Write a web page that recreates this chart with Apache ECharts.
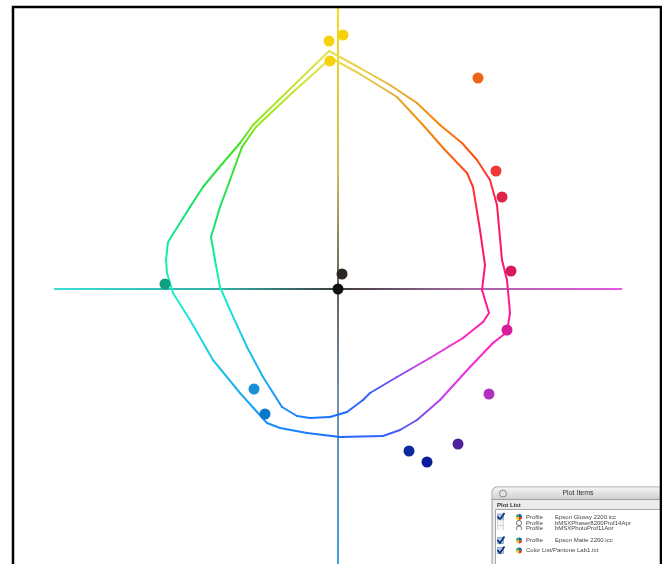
<!DOCTYPE html>
<html>
<head>
<meta charset="utf-8">
<style>
html, body { margin: 0; padding: 0; background: #fff; }
#chart { width: 662px; height: 564px; }
</style>
<script src="https://cdn.jsdelivr.net/npm/echarts@6/dist/echarts.min.js"></script>
</head>
<body>
<div id="chart"></div>
<script>
// gamut outlines in the a*b* plane
const glossyA = [-4.5, 11, 26, 39.5, 51, 62, 69.5, 76, 79.5, 82, 84.5, 86, 84.5, 77.5, 66, 51, 39.5, 31, 22.5, 1, -15.5, -29, -35.5, -49, -62.5, -74, -82.5, -85.5, -86, -85, -74, -67.5, -60.5, -49, -42.5, -24, -4.5];
const glossyB = [119, 110.5, 102, 93, 82, 73, 64.5, 54.5, 42, 14.5, 4.5, -12, -21.5, -27, -39, -55.5, -65.5, -70.5, -73.5, -74, -72, -69.5, -67, -52, -35.5, -15.5, -2, 8, 14.5, 23.5, 41, 51, 59.5, 73, 82, 100, 119];
const matteA = [-3.5, 11, 29.5, 42.5, 53.5, 64.5, 67.5, 71, 73.5, 72, 75.5, 72.5, 62.5, 46, 29.5, 16, 12.5, 4.5, -4, -14, -20.5, -28, -37.5, -45.5, -54, -59, -61.5, -63.5, -59, -54, -48, -41, -23, -3.5];
const matteB = [115.5, 107.5, 96, 82, 69.5, 58, 51, 29.5, 12, -0.5, -12, -16.5, -24.5, -34.5, -44, -52, -55.5, -61.5, -64, -64.5, -63.5, -59, -44, -29, -10.5, 1, 14.5, 26, 41, 54.5, 71, 81, 98, 115.5];

// Pantone colour list swatches
const swatchA = [-4.5, 2.5, -4, 70, 79, 82, 86.5, 84.5, 75.5, 60, 35.5, 44.5, -42, -36.5, -86.5, 2, 0];
const swatchB = [124, 127, 114, 105.5, 59, 46, 9, -20.5, -52.5, -77.5, -81, -86.5, -50, -62.5, 2.5, 7.5, 0];
const swatchColors = ['#f6d20e', '#f6d20e', '#f6d20e', '#f06418', '#f03838', '#e02448', '#d8185a', '#d81c9c', '#b030c0', '#50209c', '#0c2aa0', '#0a1c9c', '#1890d8', '#0878c8', '#10a080', '#2c2824', '#101010'];

// a* and b* axis extents
const aAxisEnds = [-142, 142];
const bAxisEnds = [141, -138];

// plot items panel rows: [checked, wheel icon, kind, name]
const plotRows = [
    [true, true, 'Profile', 'Epson Glossy 2200.icc'],
    [false, false, 'Profile', 'bMSXPhaser8200Prof14Apr'],
    [false, false, 'Profile', 'bMSXPhotoProf11Apr'],
    [true, true, 'Profile', 'Epson Matte 2200.icc'],
    [true, true, '', 'Color List/Pantone Lab1.txt']
];
const rowY = [517, 523, 528.5, 540.5, 550.5];

const hueStops = [
    [-90, '#1a6cff'], [-72, '#3a60ff'], [-59, '#7050f0'], [-47, '#c040f0'], [-31, '#f030e0'],
    [-19, '#ff20c0'], [-8, '#ff1898'], [10, '#ff1470'], [30, '#ff1c50'], [43, '#ff4a18'],
    [58, '#ff8000'], [72, '#e0a830'], [90, '#f0e050'], [117, '#90e818'], [124, '#48e020'],
    [151, '#10e070'], [170, '#10f0a0'], [181, '#20f0c0'], [192, '#20e0e0'], [227, '#20b0f0'],
    [242, '#1890ff'], [270, '#1a6cff']
];

function hexRgb(h) {
    return [parseInt(h.slice(1, 3), 16), parseInt(h.slice(3, 5), 16), parseInt(h.slice(5, 7), 16)];
}

function mix(c0, c1, t) {
    const x = hexRgb(c0), y = hexRgb(c1);
    const r = x.map((v, i) => Math.round(v + (y[i] - v) * t));
    return 'rgb(' + r.join(',') + ')';
}

function hueColor(a, b) {
    let ang = Math.atan2(b, a) * 180 / Math.PI;
    if (ang < -90) ang += 360;
    for (let i = 0; i < hueStops.length - 1; i++) {
        const s0 = hueStops[i], s1 = hueStops[i + 1];
        if (ang >= s0[0] && ang <= s1[0]) {
            return mix(s0[1], s1[1], (ang - s0[0]) / (s1[0] - s0[0]));
        }
    }
    return hueStops[0][1];
}

function segments(as, bs) {
    const out = [];
    for (let i = 0; i < as.length - 1; i++) {
        out.push([as[i], bs[i], as[i + 1], bs[i + 1]]);
    }
    return out;
}

function renderSegment(params, api) {
    const a1 = api.value(0), b1 = api.value(1), a2 = api.value(2), b2 = api.value(3);
    const p1 = api.coord([a1, b1]);
    const p2 = api.coord([a2, b2]);
    return {
        type: 'line',
        shape: {x1: p1[0], y1: p1[1], x2: p2[0], y2: p2[1]},
        style: {
            stroke: new echarts.graphic.LinearGradient(p1[0], p1[1], p2[0], p2[1], [
                {offset: 0, color: hueColor(a1, b1)},
                {offset: 1, color: hueColor(a2, b2)}
            ], true),
            lineWidth: 2,
            lineCap: 'round'
        }
    };
}

function axisRenderer(stops) {
    return function (params, api) {
        const p1 = api.coord([api.value(0), api.value(1)]);
        const p2 = api.coord([api.value(2), api.value(3)]);
        return {
            type: 'line',
            shape: {x1: p1[0], y1: p1[1], x2: p2[0], y2: p2[1]},
            style: {
                stroke: new echarts.graphic.LinearGradient(p1[0], p1[1], p2[0], p2[1], stops, true),
                lineWidth: 2
            }
        };
    };
}

function panelGraphics() {
    const font = '"Liberation Sans", Arial, sans-serif';
    const els = [
        {type: 'rect', shape: {x: 492, y: 487, width: 180, height: 90, r: [5, 5, 0, 0]},
            style: {fill: '#ececec', stroke: '#9a9a9a', lineWidth: 1}},
        {type: 'rect', shape: {x: 492.5, y: 487.5, width: 180, height: 12, r: [5, 5, 0, 0]},
            style: {fill: new echarts.graphic.LinearGradient(0, 0, 0, 1, [
                {offset: 0, color: '#f4f4f4'}, {offset: 1, color: '#cfcfcf'}])}},
        {type: 'line', shape: {x1: 492, y1: 499.5, x2: 662, y2: 499.5}, style: {stroke: '#a0a0a0', lineWidth: 1}},
        {type: 'circle', shape: {cx: 503, cy: 493.5, r: 3.5}, style: {fill: '#e4e4e4', stroke: '#8a8a8a', lineWidth: 1}},
        {type: 'text', x: 578, y: 493.5, style: {text: 'Plot Items', font: '7px ' + font, fill: '#333', align: 'center', verticalAlign: 'middle'}},
        {type: 'text', x: 497, y: 505, style: {text: 'Plot List', font: 'bold 6px ' + font, fill: '#333', verticalAlign: 'middle'}},
        {type: 'rect', shape: {x: 495.5, y: 509.5, width: 175, height: 60}, style: {fill: '#fff', stroke: '#a8a8a8', lineWidth: 1}}
    ];
    const wheel = ['#e8302c', '#f0d020', '#30b040', '#2850d0'];
    plotRows.forEach(function (row, i) {
        const y = rowY[i];
        els.push({type: 'rect', shape: {x: 497.5, y: y - 3, width: 6, height: 6},
            style: {fill: row[0] ? '#b8d0ec' : '#f4f4f4', stroke: row[0] ? '#7a9cc8' : '#d0d0d0', lineWidth: 0.8}});
        if (row[0]) {
            els.push({type: 'polyline', shape: {points: [[497.5, y - 0.5], [500, y + 2.5], [504.5, y - 4]]},
                style: {stroke: '#14307c', lineWidth: 1.8, fill: null}});
        }
        if (row[1]) {
            wheel.forEach(function (c, k) {
                els.push({type: 'sector', shape: {cx: 519, cy: y, r: 3, startAngle: k * Math.PI / 2, endAngle: (k + 1) * Math.PI / 2},
                    style: {fill: c}});
            });
        } else {
            els.push({type: 'circle', shape: {cx: 519, cy: y, r: 2.6}, style: {fill: '#fff', stroke: '#555', lineWidth: 0.8}});
        }
        if (row[2]) {
            els.push({type: 'text', x: 526, y: y, style: {text: row[2], font: '6px ' + font, fill: '#444', verticalAlign: 'middle'}});
            els.push({type: 'text', x: 555, y: y, style: {text: row[3], font: '6px ' + font, fill: '#444', verticalAlign: 'middle'}});
        } else {
            els.push({type: 'text', x: 526, y: y, style: {text: row[3], font: '6px ' + font, fill: '#444', verticalAlign: 'middle'}});
        }
    });
    // the third row is partly hidden under the next one
    els.push({type: 'rect', shape: {x: 496, y: 530, width: 170, height: 6}, style: {fill: '#fff'}});
    return els;
}

const chart = echarts.init(document.getElementById('chart'));
chart.setOption({
    animation: false,
    backgroundColor: '#fff',
    grid: {left: 8, right: 4, top: 9, bottom: 1},
    xAxis: {type: 'value', min: -165, max: 160, show: false},
    yAxis: {type: 'value', min: -137, max: 140, show: false},
    graphic: [
        {type: 'rect', z: 100, shape: {x: 13, y: 7, width: 648, height: 600},
            style: {fill: null, stroke: '#000', lineWidth: 2.5}},
        {type: 'group', z: 110, children: panelGraphics()}
    ],
    series: [
        {
            type: 'custom', name: 'a*', z: 1, silent: true, clip: false,
            renderItem: axisRenderer([
                {offset: 0, color: '#38e0d8'}, {offset: 0.3, color: '#34aca6'},
                {offset: 0.5, color: '#3c3c3c'}, {offset: 0.7, color: '#9a6898'}, {offset: 1, color: '#e858e0'}
            ]),
            encode: {x: [0, 2], y: [1, 3]},
            data: [[aAxisEnds[0], 0, aAxisEnds[1], 0]]
        },
        {
            type: 'custom', name: 'b*', z: 1, silent: true, clip: false,
            renderItem: axisRenderer([
                {offset: 0, color: '#f8dc10'}, {offset: 0.3, color: '#c8bc60'},
                {offset: 0.5, color: '#606060'}, {offset: 0.7, color: '#7890a8'}, {offset: 1, color: '#40a0e0'}
            ]),
            encode: {x: [0, 2], y: [1, 3]},
            data: [[0, bAxisEnds[0], 0, bAxisEnds[1]]]
        },
        {
            type: 'custom', name: 'Epson Glossy 2200', z: 2, silent: true, clip: false,
            renderItem: renderSegment,
            encode: {x: [0, 2], y: [1, 3]},
            data: segments(glossyA, glossyB)
        },
        {
            type: 'custom', name: 'Epson Matte 2200', z: 2, silent: true, clip: false,
            renderItem: renderSegment,
            encode: {x: [0, 2], y: [1, 3]},
            data: segments(matteA, matteB)
        },
        {
            type: 'scatter', name: 'Pantone Lab1', z: 3, symbolSize: 11,
            itemStyle: {opacity: 1},
            data: swatchA.map(function (a, i) {
                return {value: [a, swatchB[i]], itemStyle: {color: swatchColors[i], opacity: 1}};
            })
        }
    ]
});
</script>
</body>
</html>
